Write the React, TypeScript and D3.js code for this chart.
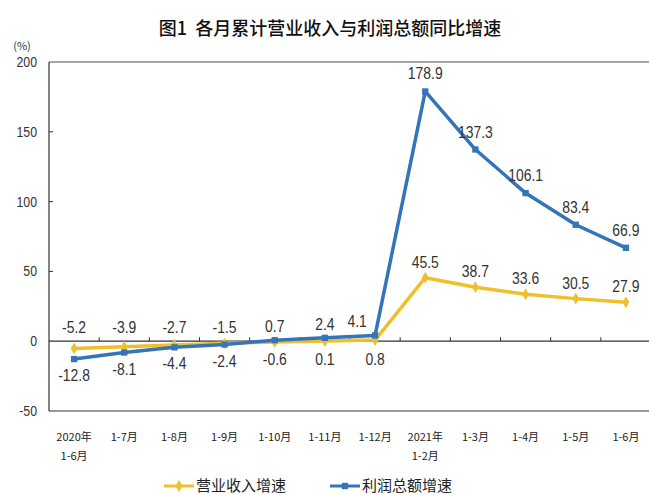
import React from "react";
import * as d3 from "d3";

const categories = ["2020年\n1-6月", "1-7月", "1-8月", "1-9月", "1-10月", "1-11月", "1-12月", "2021年\n1-2月", "1-3月", "1-4月", "1-5月", "1-6月"];
const revenueGrowth = [-5.2, -3.9, -2.7, -1.5, -0.6, 0.1, 0.8, 45.5, 38.7, 33.6, 30.5, 27.9];
const profitGrowth = [-12.8, -8.1, -4.4, -2.4, 0.7, 2.4, 4.1, 178.9, 137.3, 106.1, 83.4, 66.9];
const yTicks = [-50, 0, 50, 100, 150, 200];

const W = 649, H = 495;
const left = 49, right = 651, top = 62, bottom = 411;
const YELLOW = "#EDC02C";
const BLUE = "#3474B8";
const NUM_FONT = "'Liberation Sans', Arial, sans-serif";
const CJK = "'Noto Sans CJK SC', sans-serif";

function Num({ x, y, t, anchor = "middle", size = 16 }: { x: number; y: number; t: string; anchor?: string; size?: number }) {
  return (
    <text transform={`translate(${x},${y}) scale(0.82,1)`} textAnchor={anchor as any} fontFamily={NUM_FONT} fontSize={size} fill="#333">
      {t}
    </text>
  );
}

export default function App() {
  const x = d3.scaleBand<number>().domain(d3.range(categories.length)).range([left, right]);
  const y = d3.scaleLinear().domain([-50, 200]).range([bottom, top]);
  const cx = (i: number) => (x(i) as number) + x.bandwidth() / 2;
  const line = d3.line<number>().x((_, i) => cx(i)).y((d) => y(d));
  const y0 = y(0);

  const labels: { x: number; y: number; t: string }[] = [];
  categories.forEach((_, i) => {
    const r = revenueGrowth[i], p = profitGrowth[i];
    const hi = Math.max(r, p), lo = Math.min(r, p);
    if (i >= 7) {
      labels.push({ x: cx(i), y: y(p) - 12, t: p.toFixed(1) });
      labels.push({ x: cx(i), y: y(r) - 10, t: r.toFixed(1) });
    } else {
      const dx = i === 6 ? -18 : 0;
      labels.push({ x: cx(i) + dx, y: Math.min(y(hi), y0) - 8, t: hi.toFixed(1) });
      labels.push({ x: cx(i), y: Math.max(y(lo) + 22, y0 + 24), t: lo.toFixed(1) });
    }
  });

  const diamond = d3.symbol().type(d3.symbolDiamond).size(40)();
  const square = d3.symbol().type(d3.symbolSquare).size(40)();

  return (
    <svg width={W} height={H} style={{ position: "absolute", left: 0, top: 0, background: "#fff" }}>
      <text x={330} y={35} textAnchor="middle" fontFamily={CJK} fontSize={18} fontWeight={500} fill="#111" style={{ whiteSpace: "pre" }}>
        图1  各月累计营业收入与利润总额同比增速
      </text>
      <text x={22} y={50} textAnchor="middle" fontFamily={CJK} fontSize={11} fill="#333">(%)</text>

      {/* frame */}
      <line x1={left} x2={W} y1={top} y2={top} stroke="#888" strokeWidth={1.5} />
      <line x1={left} x2={W} y1={bottom} y2={bottom} stroke="#777" strokeWidth={1.5} />
      <line x1={left} x2={left} y1={top} y2={bottom} stroke="#333" strokeWidth={1.2} />
      <line x1={left} x2={W} y1={y0} y2={y0} stroke="#333" strokeWidth={1.2} />

      {yTicks.map((t) => (
        <g key={t}>
          <Num x={37} y={y(t) + 5} t={String(t)} anchor="end" size={15} />
          {t > 0 && t < 200 && <line x1={left} x2={left + 4} y1={y(t)} y2={y(t)} stroke="#333" />}
        </g>
      ))}
      {d3.range(1, categories.length + 1).map((i) => (
        <line key={i} x1={left + i * x.step()} x2={left + i * x.step()} y1={y0} y2={y0 - 4} stroke="#333" />
      ))}

      {categories.map((c, i) => (
        <text key={i} x={cx(i)} y={441} textAnchor="middle" fontFamily={CJK} fontSize={11} fill="#222">
          {c.split("\n").map((s, k) => (
            <tspan key={k} x={cx(i)} dy={k === 0 ? 0 : 19}>{s}</tspan>
          ))}
        </text>
      ))}

      <path d={line(revenueGrowth) || ""} fill="none" stroke={YELLOW} strokeWidth={3.5} strokeLinejoin="round" />
      <path d={line(profitGrowth) || ""} fill="none" stroke={BLUE} strokeWidth={3.5} strokeLinejoin="round" />
      {revenueGrowth.map((v, i) => (
        <path key={"r" + i} d={diamond || ""} transform={`translate(${cx(i)},${y(v)})`} fill={YELLOW} />
      ))}
      {profitGrowth.map((v, i) => (
        <path key={"p" + i} d={square || ""} transform={`translate(${cx(i)},${y(v)})`} fill={BLUE} />
      ))}

      {labels.map((l, i) => (
        <Num key={i} x={l.x} y={l.y} t={l.t} size={17} />
      ))}

      {/* legend */}
      <line x1={164} x2={194} y1={486} y2={486} stroke={YELLOW} strokeWidth={3} />
      <path d={diamond || ""} transform="translate(179,486)" fill={YELLOW} />
      <text x={196} y={491} fontFamily={CJK} fontSize={15} fill="#222">营业收入增速</text>
      <line x1={330} x2={360} y1={486} y2={486} stroke={BLUE} strokeWidth={3} />
      <path d={square || ""} transform="translate(345,486)" fill={BLUE} />
      <text x={362} y={491} fontFamily={CJK} fontSize={15} fill="#222">利润总额增速</text>
    </svg>
  );
}
